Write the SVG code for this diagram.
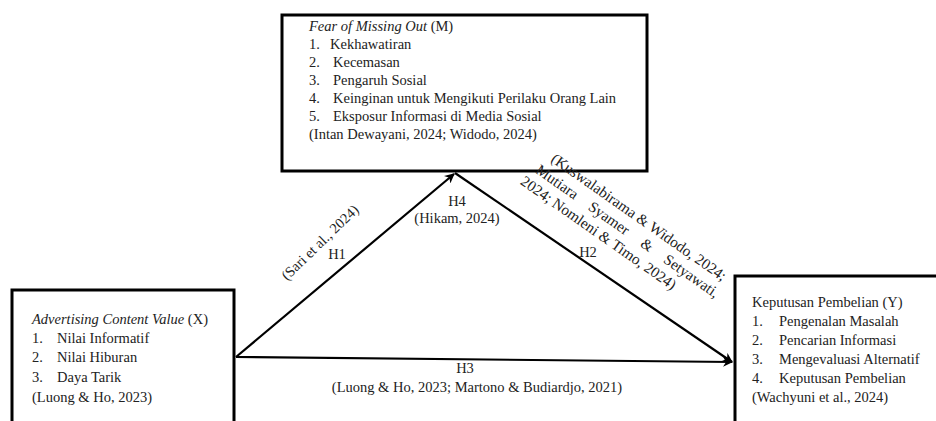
<svg xmlns="http://www.w3.org/2000/svg" width="936" height="421" viewBox="0 0 936 421">
<style>
text{font-family:"Liberation Serif","Times New Roman",serif;font-size:14.5px;fill:#222}
.it{font-style:italic}
.box{fill:#fff;stroke:#000;stroke-width:3}
.con{stroke:#000;stroke-width:2.2;fill:none}
.mid{text-anchor:middle}
.rot text{font-size:15.2px}
</style>
<defs>
<marker id="ah" viewBox="0 0 10 10" refX="9" refY="5" markerWidth="4.5" markerHeight="4.5" orient="auto" markerUnits="strokeWidth">
<path d="M0,0 L10,5 L0,10 L3,5 Z" fill="#000"/>
</marker>
</defs>
<rect width="936" height="421" fill="#fff"/>
<g id="node-M">
<rect class="box" x="282" y="15" width="365" height="156"/>
<text x="309" y="31"><tspan class="it">Fear of Missing Out</tspan> (M)</text>
<text x="309" y="49">1.</text><text x="330" y="49">Kekhawatiran</text>
<text x="309" y="67">2.</text><text x="333" y="67">Kecemasan</text>
<text x="309" y="85">3.</text><text x="333" y="85">Pengaruh Sosial</text>
<text x="309" y="103">4.</text><text x="333" y="103">Keinginan untuk Mengikuti Perilaku Orang Lain</text>
<text x="309" y="121">5.</text><text x="333" y="121">Eksposur Informasi di Media Sosial</text>
<text x="309" y="139">(Intan Dewayani, 2024; Widodo, 2024)</text>
</g>
<g id="node-X">
<rect class="box" x="12" y="290" width="222" height="140"/>
<text x="32" y="324"><tspan class="it">Advertising Content Value</tspan> (X)</text>
<text x="32" y="343">1.</text><text x="57" y="343">Nilai Informatif</text>
<text x="32" y="362">2.</text><text x="57" y="362">Nilai Hiburan</text>
<text x="32" y="382">3.</text><text x="57" y="382">Daya Tarik</text>
<text x="32" y="402">(Luong &amp; Ho, 2023)</text>
</g>
<g id="node-Y">
<rect class="box" x="735" y="276" width="220" height="160"/>
<text x="752" y="307">Keputusan Pembelian (Y)</text>
<text x="752" y="326">1.</text><text x="779" y="326">Pengenalan Masalah</text>
<text x="752" y="345">2.</text><text x="779" y="345">Pencarian Informasi</text>
<text x="752" y="364">3.</text><text x="779" y="364">Mengevaluasi Alternatif</text>
<text x="752" y="383">4.</text><text x="779" y="383">Keputusan Pembelian</text>
<text x="752" y="402">(Wachyuni et al., 2024)</text>
</g>
<g id="connectors">
<path class="con" d="M236,357 L454,174" marker-end="url(#ah)"/>
<path class="con" d="M455,173 L732,362" marker-end="url(#ah)"/>
<path class="con" d="M236,357 L732,362" marker-end="url(#ah)"/>
<text class="mid" x="457" y="206">H4</text>
<text class="mid" x="457" y="223">(Hikam, 2024)</text>
<text class="mid" x="337" y="259">H1</text>
<text transform="translate(287,281) rotate(-44)">(Sari et al., 2024)</text>
<text class="mid" x="588" y="257">H2</text>
<g class="rot" transform="translate(550,161) rotate(35)">
<text x="0" y="0">(Kuswalabirama &amp; Widodo, 2024;</text>
<text x="-6" y="18">Mutiara</text>
<text x="58" y="18">Syamer</text>
<text x="122" y="18">&amp;</text>
<text x="150" y="18">Setyawati,</text>
<text x="-12" y="36">2024; Nomleni &amp; Timo, 2024)</text>
</g>
<text class="mid" x="465" y="373">H3</text>
<text class="mid" x="477" y="392">(Luong &amp; Ho, 2023; Martono &amp; Budiardjo, 2021)</text>
</g>
</svg>
